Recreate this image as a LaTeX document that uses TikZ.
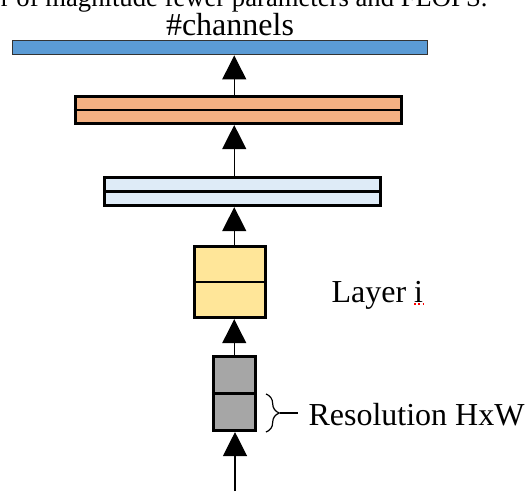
\documentclass[tikz,border=0pt]{standalone}
\usepackage{fontspec}
\setmainfont{Liberation Serif}
\usepackage{tikz}
\usetikzlibrary{arrows.meta,decorations.pathreplacing}
\definecolor{barblue}{HTML}{5B9BD5}
\definecolor{barorange}{HTML}{F4B183}
\definecolor{barpale}{HTML}{DEEBF7}
\definecolor{baryellow}{HTML}{FFE699}
\definecolor{bargray}{HTML}{A6A6A6}

\begin{document}
\begin{tikzpicture}[x=0.375pt,y=-0.375pt,
  blk/.style={draw=black,line width=1.1pt,inner sep=0pt},
  up/.style={-{Triangle[width=9pt,length=9pt]},line width=0.45pt},
  lbl/.style={font=\fontsize{12}{14}\selectfont,inner sep=0pt}]
  \useasboundingbox (0,0) rectangle (528,491);
  \clip (0,0) rectangle (528,491);
  \node[lbl,font=\fontsize{10}{12}\selectfont,anchor=base east](cap)at(488,6){order of magnitude fewer parameters and FLOPS.};
  \node[lbl,anchor=base](ch)at(230,35){\#channels};
  % stacked feature maps
  \node[draw=black!80,line width=0.55pt,fill=barblue,inner sep=0pt,minimum width=155.5pt,minimum height=5.4pt](bl)at(220,47.5){};
  \node[blk,fill=barorange,minimum width=122.5pt,minimum height=10.2pt](or)at(238.5,110){};
  \node[blk,fill=barpale,minimum width=103.5pt,minimum height=10.6pt](lb)at(242.5,191.5){};
  \node[blk,fill=baryellow,minimum width=26.5pt,minimum height=26.8pt](yl)at(229.75,282){};
  \node[blk,fill=bargray,minimum width=15.6pt,minimum height=27.8pt](gr)at(234.25,393.5){};
  \foreach \b in {or,lb,yl,gr} \draw[line width=0.95pt](\b.west)--(\b.east);
  % arrows between the layers
  \coordinate (in) at (235,491);
  \draw[up](in)--(in |- gr.south);
  \draw[up](gr.north)--(gr.north |- yl.south);
  \draw[up](yl.north -| gr)--(lb.south -| gr);
  \draw[up](lb.north -| gr)--(or.south -| gr);
  \draw[up](or.north -| gr)--(bl.south -| gr);
  \node[lbl,anchor=base west](lay)at(331,302){Layer i};
  \draw[red,densely dotted,line width=0.6pt](414,304)--(424,304);
  % resolution brace
  \coordinate (bt) at (266,394);
  \coordinate (bb) at (266,432);
  \draw[decorate,decoration={brace,amplitude=5pt},line width=0.45pt](bt)--(bb);
  \draw[line width=0.45pt](280,413)--(298,413);
  \node[lbl,anchor=base west](res)at(308,425){Resolution HxW};
\end{tikzpicture}
\end{document}
